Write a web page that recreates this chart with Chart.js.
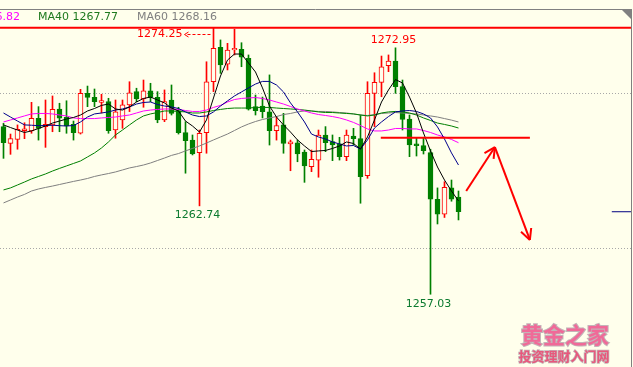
<!DOCTYPE html>
<html>
<head>
<meta charset="utf-8">
<script src="https://cdn.jsdelivr.net/npm/chart.js@4.4.0/dist/chart.umd.min.js"></script>
<style>
  html, body { margin: 0; padding: 0; background: #ffffec; }
  #wrap { width: 633px; height: 367px; }
</style>
</head>
<body>
<div id="wrap"><canvas id="myCanvas" width="633" height="367"></canvas></div>
<script>
// candles, oldest first
const open = [
  1267.86, 1266.78, 1267.04, 1267.60, 1267.58, 1268.40, 1267.86, 1267.97, 1269.00, 1268.46,
  1268.01, 1267.43, 1270.01, 1269.75, 1269.43, 1269.47, 1267.64, 1268.29, 1269.26, 1270.12,
  1269.65, 1270.18, 1269.75, 1268.29, 1269.58, 1268.89, 1267.47, 1266.99, 1266.18, 1267.47,
  1270.76, 1272.98, 1271.90, 1272.81, 1272.86, 1272.27, 1269.15, 1269.19, 1268.82, 1267.60,
  1267.97, 1266.74, 1266.82, 1266.22, 1265.27, 1265.70, 1267.32, 1266.89, 1266.74, 1265.92,
  1267.25, 1267.08, 1264.69, 1270.01, 1270.72, 1271.80, 1272.10, 1270.44, 1268.35, 1266.74,
  1266.63, 1266.18, 1263.17, 1262.20, 1263.90, 1263.31
];
const close = [
  1266.82, 1267.08, 1267.69, 1267.71, 1268.40, 1267.75, 1268.01, 1268.98, 1268.40, 1267.90,
  1267.47, 1270.01, 1269.75, 1269.47, 1269.55, 1267.60, 1268.81, 1269.26, 1270.05, 1269.65,
  1270.18, 1269.75, 1268.29, 1269.47, 1268.72, 1267.47, 1266.95, 1266.09, 1267.43, 1270.76,
  1272.92, 1271.84, 1272.81, 1272.92, 1272.34, 1268.98, 1268.89, 1268.82, 1267.60, 1267.92,
  1266.78, 1266.87, 1266.09, 1265.32, 1265.75, 1267.32, 1266.82, 1266.67, 1265.92, 1267.32,
  1267.08, 1264.63, 1270.01, 1270.72, 1271.73, 1272.10, 1270.44, 1268.33, 1266.67, 1266.63,
  1266.31, 1263.17, 1262.20, 1263.94, 1263.18, 1262.36
];
const high = [
  1268.07, 1267.38, 1267.97, 1268.11, 1269.43, 1269.15, 1269.58, 1269.84, 1269.37, 1269.53,
  1268.22, 1270.27, 1270.48, 1270.29, 1269.95, 1269.69, 1269.58, 1269.58, 1270.76, 1270.34,
  1270.87, 1270.66, 1270.12, 1270.23, 1270.55, 1269.11, 1268.18, 1267.32, 1267.64, 1272.05,
  1274.25, 1273.46, 1273.24, 1274.15, 1273.28, 1272.49, 1269.90, 1269.77, 1271.20, 1268.50,
  1268.72, 1266.99, 1266.99, 1266.35, 1266.35, 1267.64, 1267.86, 1267.32, 1267.17, 1267.64,
  1267.75, 1268.61, 1270.76, 1271.34, 1272.42, 1272.49, 1272.95, 1270.87, 1268.61, 1267.11,
  1267.17, 1266.40, 1263.90, 1264.30, 1264.41, 1263.70
];
const low = [
  1265.81, 1266.07, 1266.40, 1267.08, 1267.43, 1266.99, 1266.52, 1267.53, 1267.53, 1267.43,
  1266.99, 1267.38, 1269.15, 1269.15, 1268.74, 1267.43, 1267.11, 1267.75, 1268.83, 1269.47,
  1269.11, 1269.47, 1268.11, 1268.18, 1268.61, 1267.38, 1264.85, 1266.03, 1262.74, 1266.14,
  1270.12, 1271.30, 1271.52, 1272.49, 1271.73, 1268.93, 1268.61, 1268.42, 1266.67, 1266.99,
  1266.14, 1265.01, 1265.59, 1264.26, 1264.95, 1264.59, 1266.24, 1265.66, 1265.70, 1265.66,
  1266.67, 1262.91, 1264.52, 1267.86, 1269.79, 1271.41, 1270.01, 1267.64, 1265.92, 1265.96,
  1266.09, 1257.03, 1261.57, 1261.99, 1263.04, 1261.83
];

// moving averages as drawn
const ma5 = [
  1267.97, 1267.80, 1267.64, 1267.48, 1267.58, 1267.74, 1267.90, 1268.09, 1268.22, 1268.35,
  1268.45, 1268.61, 1268.87, 1269.03, 1269.23, 1269.32, 1269.00, 1268.93, 1269.13, 1269.45,
  1269.68, 1269.77, 1269.58, 1269.39, 1269.06, 1268.87, 1268.22, 1267.90, 1267.51, 1268.29,
  1269.71, 1271.13, 1272.16, 1272.55, 1272.55, 1271.97, 1271.39, 1270.36, 1269.19, 1268.48,
  1267.97, 1267.51, 1267.00, 1266.61, 1266.25, 1266.29, 1266.32, 1266.45, 1266.61, 1266.87,
  1266.77, 1266.41, 1267.19, 1268.29, 1269.45, 1270.23, 1270.90, 1270.68, 1269.77, 1268.74,
  1267.45, 1266.29, 1265.25, 1264.41, 1263.70, 1263.06
];
const ma10 = [
  1268.74, 1268.48, 1268.22, 1267.97, 1267.95, 1267.92, 1267.93, 1267.95, 1267.92, 1267.90,
  1267.93, 1268.16, 1268.48, 1268.68, 1268.74, 1268.81, 1268.93, 1269.00, 1269.13, 1269.32,
  1269.42, 1269.45, 1269.29, 1269.19, 1269.13, 1269.03, 1268.81, 1268.61, 1268.51, 1268.55,
  1268.81, 1269.19, 1269.52, 1269.84, 1270.10, 1270.36, 1270.61, 1270.78, 1270.78, 1270.55,
  1270.10, 1269.39, 1268.81, 1268.16, 1267.38, 1267.19, 1267.06, 1266.87, 1266.74, 1266.61,
  1266.64, 1266.41, 1267.00, 1267.77, 1268.16, 1268.51, 1268.81, 1268.87, 1268.90, 1268.84,
  1268.68, 1268.42, 1267.84, 1267.06, 1266.16, 1265.38
];
const ma20 = [
  1268.16, 1268.29, 1268.42, 1268.55, 1268.68, 1268.71, 1268.71, 1268.68, 1268.61, 1268.55,
  1268.42, 1268.38, 1268.38, 1268.38, 1268.42, 1268.45, 1268.48, 1268.55, 1268.61, 1268.74,
  1268.87, 1268.93, 1268.97, 1269.00, 1269.00, 1268.97, 1268.90, 1268.84, 1268.84, 1268.93,
  1269.10, 1269.23, 1269.45, 1269.61, 1269.68, 1269.71, 1269.74, 1269.68, 1269.58, 1269.45,
  1269.32, 1269.16, 1269.00, 1268.87, 1268.74, 1268.64, 1268.58, 1268.51, 1268.42, 1268.29,
  1268.13, 1267.93, 1267.71, 1267.58, 1267.58, 1267.64, 1267.74, 1267.74, 1267.71, 1267.71,
  1267.61, 1267.48, 1267.32, 1267.19, 1267.03, 1266.82
];
const ma40 = [
  1263.77, 1263.90, 1264.09, 1264.28, 1264.48, 1264.64, 1264.80, 1264.99, 1265.16, 1265.32,
  1265.48, 1265.64, 1265.90, 1266.16, 1266.48, 1266.87, 1267.32, 1267.64, 1267.97, 1268.29,
  1268.55, 1268.68, 1268.77, 1268.87, 1268.87, 1268.84, 1268.81, 1268.74, 1268.74, 1268.81,
  1268.90, 1268.97, 1269.03, 1269.06, 1269.06, 1269.06, 1269.10, 1269.10, 1269.10, 1269.06,
  1269.03, 1269.00, 1268.97, 1268.93, 1268.87, 1268.81, 1268.77, 1268.77, 1268.74, 1268.71,
  1268.68, 1268.61, 1268.55, 1268.61, 1268.74, 1268.81, 1268.84, 1268.81, 1268.74, 1268.61,
  1268.42, 1268.26, 1268.09, 1268.00, 1267.90, 1267.77
];
const ma60 = [
  1262.93, 1263.12, 1263.31, 1263.48, 1263.70, 1263.83, 1263.93, 1264.02, 1264.12, 1264.22,
  1264.32, 1264.41, 1264.51, 1264.64, 1264.74, 1264.83, 1264.93, 1265.06, 1265.19, 1265.28,
  1265.38, 1265.51, 1265.67, 1265.83, 1266.00, 1266.12, 1266.29, 1266.45, 1266.61, 1266.80,
  1267.00, 1267.19, 1267.38, 1267.61, 1267.84, 1268.03, 1268.19, 1268.32, 1268.42, 1268.51,
  1268.64, 1268.71, 1268.81, 1268.87, 1268.87, 1268.84, 1268.84, 1268.81, 1268.77, 1268.74,
  1268.68, 1268.61, 1268.58, 1268.64, 1268.71, 1268.74, 1268.77, 1268.74, 1268.71, 1268.68,
  1268.61, 1268.55, 1268.48, 1268.38, 1268.28, 1268.16
];

// hand drawn lines, in (candle index, price)
const topLevel = 1274.25;
const resistLevel = 1267.14;
const resistSpan = [53.9, 75.2];
const upArrow = [[66.1, 1263.70], [70.2, 1266.54]];
const downArrow = [[70.2, 1266.54], [75.2, 1260.54]];
const peakLabels = [30, 56];
const troughLabels = [28, 61];
const gridLevels = [1260, 1270];
const priceMin = 1252.33, priceMax = 1276.04;
const xMin = -0.5, xMax = 89.93;

const BG = "#ffffec";
const RED = "#ff0000";
const GREEN = "#008000";
const FONT = '11px "DejaVu Sans"';

const last = close.length - 1;
const idx = open.map((v, i) => i);
const rising = idx.map(i => close[i] >= open[i]);
const pts = arr => arr.map((v, i) => ({ x: i, y: v }));

const lineSet = (data, color, width, order) => ({
  type: "line",
  data: data,
  borderColor: color,
  borderWidth: width,
  pointRadius: 0,
  tension: 0,
  fill: false,
  order: order
});

const decor = {
  id: "decor",
  beforeDraw(c) {
    const g = c.ctx;
    g.save();
    g.fillStyle = BG;
    g.fillRect(0, 0, c.width, c.height);
    g.restore();
  },
  afterDatasetsDraw(c) {
    const g = c.ctx, xs = c.scales.x, ys = c.scales.y;

    // arrow heads
    [upArrow, downArrow].forEach(a => {
      const x1 = xs.getPixelForValue(a[0][0]), y1 = ys.getPixelForValue(a[0][1]);
      const x2 = xs.getPixelForValue(a[1][0]), y2 = ys.getPixelForValue(a[1][1]);
      const ang = Math.atan2(y1 - y2, x1 - x2);
      g.save();
      g.strokeStyle = RED;
      g.lineWidth = 2;
      g.beginPath();
      [-0.47, 0.47].forEach(d => {
        g.moveTo(x2, y2);
        g.lineTo(x2 + 12 * Math.cos(ang + d), y2 + 12 * Math.sin(ang + d));
      });
      g.stroke();
      g.restore();
    });

    g.save();
    g.font = FONT;
    // highs
    peakLabels.forEach((i, k) => {
      const x = xs.getPixelForValue(i), y = ys.getPixelForValue(high[i]);
      g.fillStyle = RED;
      if (k === 0) {
        // label to the left with a dashed pointer
        const ly = Math.round(y + 6) + 0.5;
        g.textAlign = "right";
        g.textBaseline = "middle";
        g.fillText(high[i].toFixed(2), x - 31, ly);
        g.strokeStyle = RED;
        g.lineWidth = 1;
        g.setLineDash([3, 2]);
        g.beginPath();
        g.moveTo(x - 26, ly);
        g.lineTo(x - 1, ly);
        g.stroke();
        g.setLineDash([]);
        g.beginPath();
        g.moveTo(x - 25, ly - 2.5);
        g.lineTo(x - 29, ly);
        g.lineTo(x - 25, ly + 2.5);
        g.stroke();
      } else {
        g.textAlign = "center";
        g.textBaseline = "bottom";
        g.fillText(high[i].toFixed(2), x - 2, y - 2);
      }
    });
    // lows
    troughLabels.forEach(i => {
      const x = xs.getPixelForValue(i), y = ys.getPixelForValue(low[i]);
      g.fillStyle = "#0b7a2e";
      g.textAlign = "center";
      g.textBaseline = "top";
      g.fillText(low[i].toFixed(2), x - 2, y + 4);
    });
    g.restore();
  },
  afterDraw(c) {
    const g = c.ctx;
    g.save();
    // window frame
    g.strokeStyle = "#808080";
    g.lineWidth = 1;
    g.beginPath();
    g.moveTo(0, 9.5);
    g.lineTo(631, 9.5);
    g.moveTo(631.5, 9);
    g.lineTo(631.5, c.height);
    g.stroke();
    g.fillStyle = "#808080";
    g.beginPath();
    g.moveTo(621, 9);
    g.lineTo(632, 9);
    g.lineTo(632, 20);
    g.closePath();
    g.fill();

    // indicator values
    g.font = FONT;
    g.textBaseline = "middle";
    g.textAlign = "right";
    g.fillStyle = "#ff00ff";
    g.fillText("MA20 " + ma20[last].toFixed(2), 20, 17);
    g.textAlign = "left";
    g.fillStyle = "#1f7a1f";
    g.fillText("MA40 " + ma40[last].toFixed(2), 38, 17);
    g.fillStyle = "#808080";
    g.fillText("MA60 " + ma60[last].toFixed(2), 137, 17);

    // watermark
    g.textAlign = "center";
    g.font = 'bold 22px "Noto Sans CJK SC"';
    g.lineWidth = 2;
    g.strokeStyle = "#c4b4b8";
    g.strokeText("黄金之家", 565, 335);
    g.fillStyle = "#f06a98";
    g.fillText("黄金之家", 565, 335);
    g.font = 'bold 13px "Noto Sans CJK SC"';
    g.lineWidth = 1.5;
    g.strokeText("投资理财入门网", 564, 356);
    g.fillStyle = "#e8587c";
    g.fillText("投资理财入门网", 564, 356);
    g.restore();
  }
};

const ctx = document.getElementById("myCanvas").getContext("2d");

const chart = new Chart(ctx, {
  type: "bar",
  data: {
    datasets: [
      lineSet([{ x: xMin, y: topLevel }, { x: 89.64, y: topLevel }], RED, 2, 0),
      lineSet([{ x: resistSpan[0], y: resistLevel }, { x: resistSpan[1], y: resistLevel }], RED, 2, 0),
      lineSet(upArrow.map(p => ({ x: p[0], y: p[1] })), RED, 2, 0),
      lineSet(downArrow.map(p => ({ x: p[0], y: p[1] })), RED, 2, 0),
      lineSet([{ x: 86.9, y: close[last] }, { x: 89.64, y: close[last] }], "#000080", 1, 0),
      lineSet(pts(ma5), "#000000", 1, 1),
      lineSet(pts(ma10), "#00008b", 1, 1),
      lineSet(pts(ma20), "#ff00ff", 1, 1),
      lineSet(pts(ma40), GREEN, 1, 1),
      lineSet(pts(ma60), "#808080", 1, 1),
      {
        type: "bar",
        data: idx.map(i => ({ x: i, y: [open[i], close[i]] })),
        backgroundColor: idx.map(i => (rising[i] ? BG : GREEN)),
        borderColor: idx.map(i => (rising[i] ? RED : GREEN)),
        borderWidth: 1,
        borderSkipped: false,
        barThickness: 5,
        minBarLength: 1,
        grouped: false,
        order: 2
      },
      {
        type: "bar",
        data: idx.map(i => ({ x: i, y: [low[i], high[i]] })),
        backgroundColor: idx.map(i => (rising[i] ? RED : GREEN)),
        borderWidth: 0,
        barThickness: 1,
        grouped: false,
        order: 3
      }
    ]
  },
  options: {
    responsive: false,
    animation: false,
    devicePixelRatio: 1,
    layout: { padding: 0 },
    plugins: { legend: { display: false }, tooltip: { enabled: false } },
    scales: {
      x: {
        type: "linear",
        min: xMin,
        max: xMax,
        offset: false,
        display: false,
        grid: { offset: false }
      },
      y: {
        type: "linear",
        position: "right",
        min: priceMin,
        max: priceMax,
        beginAtZero: false,
        afterFit(s) { s.width = 0; },
        afterBuildTicks(s) { s.ticks = gridLevels.map(v => ({ value: v })); },
        ticks: { display: false },
        grid: { color: "#a8a8a8", lineWidth: 1, drawTicks: false },
        border: { display: false, dash: [1, 2] }
      }
    }
  },
  plugins: [decor]
});
</script>
</body>
</html>
